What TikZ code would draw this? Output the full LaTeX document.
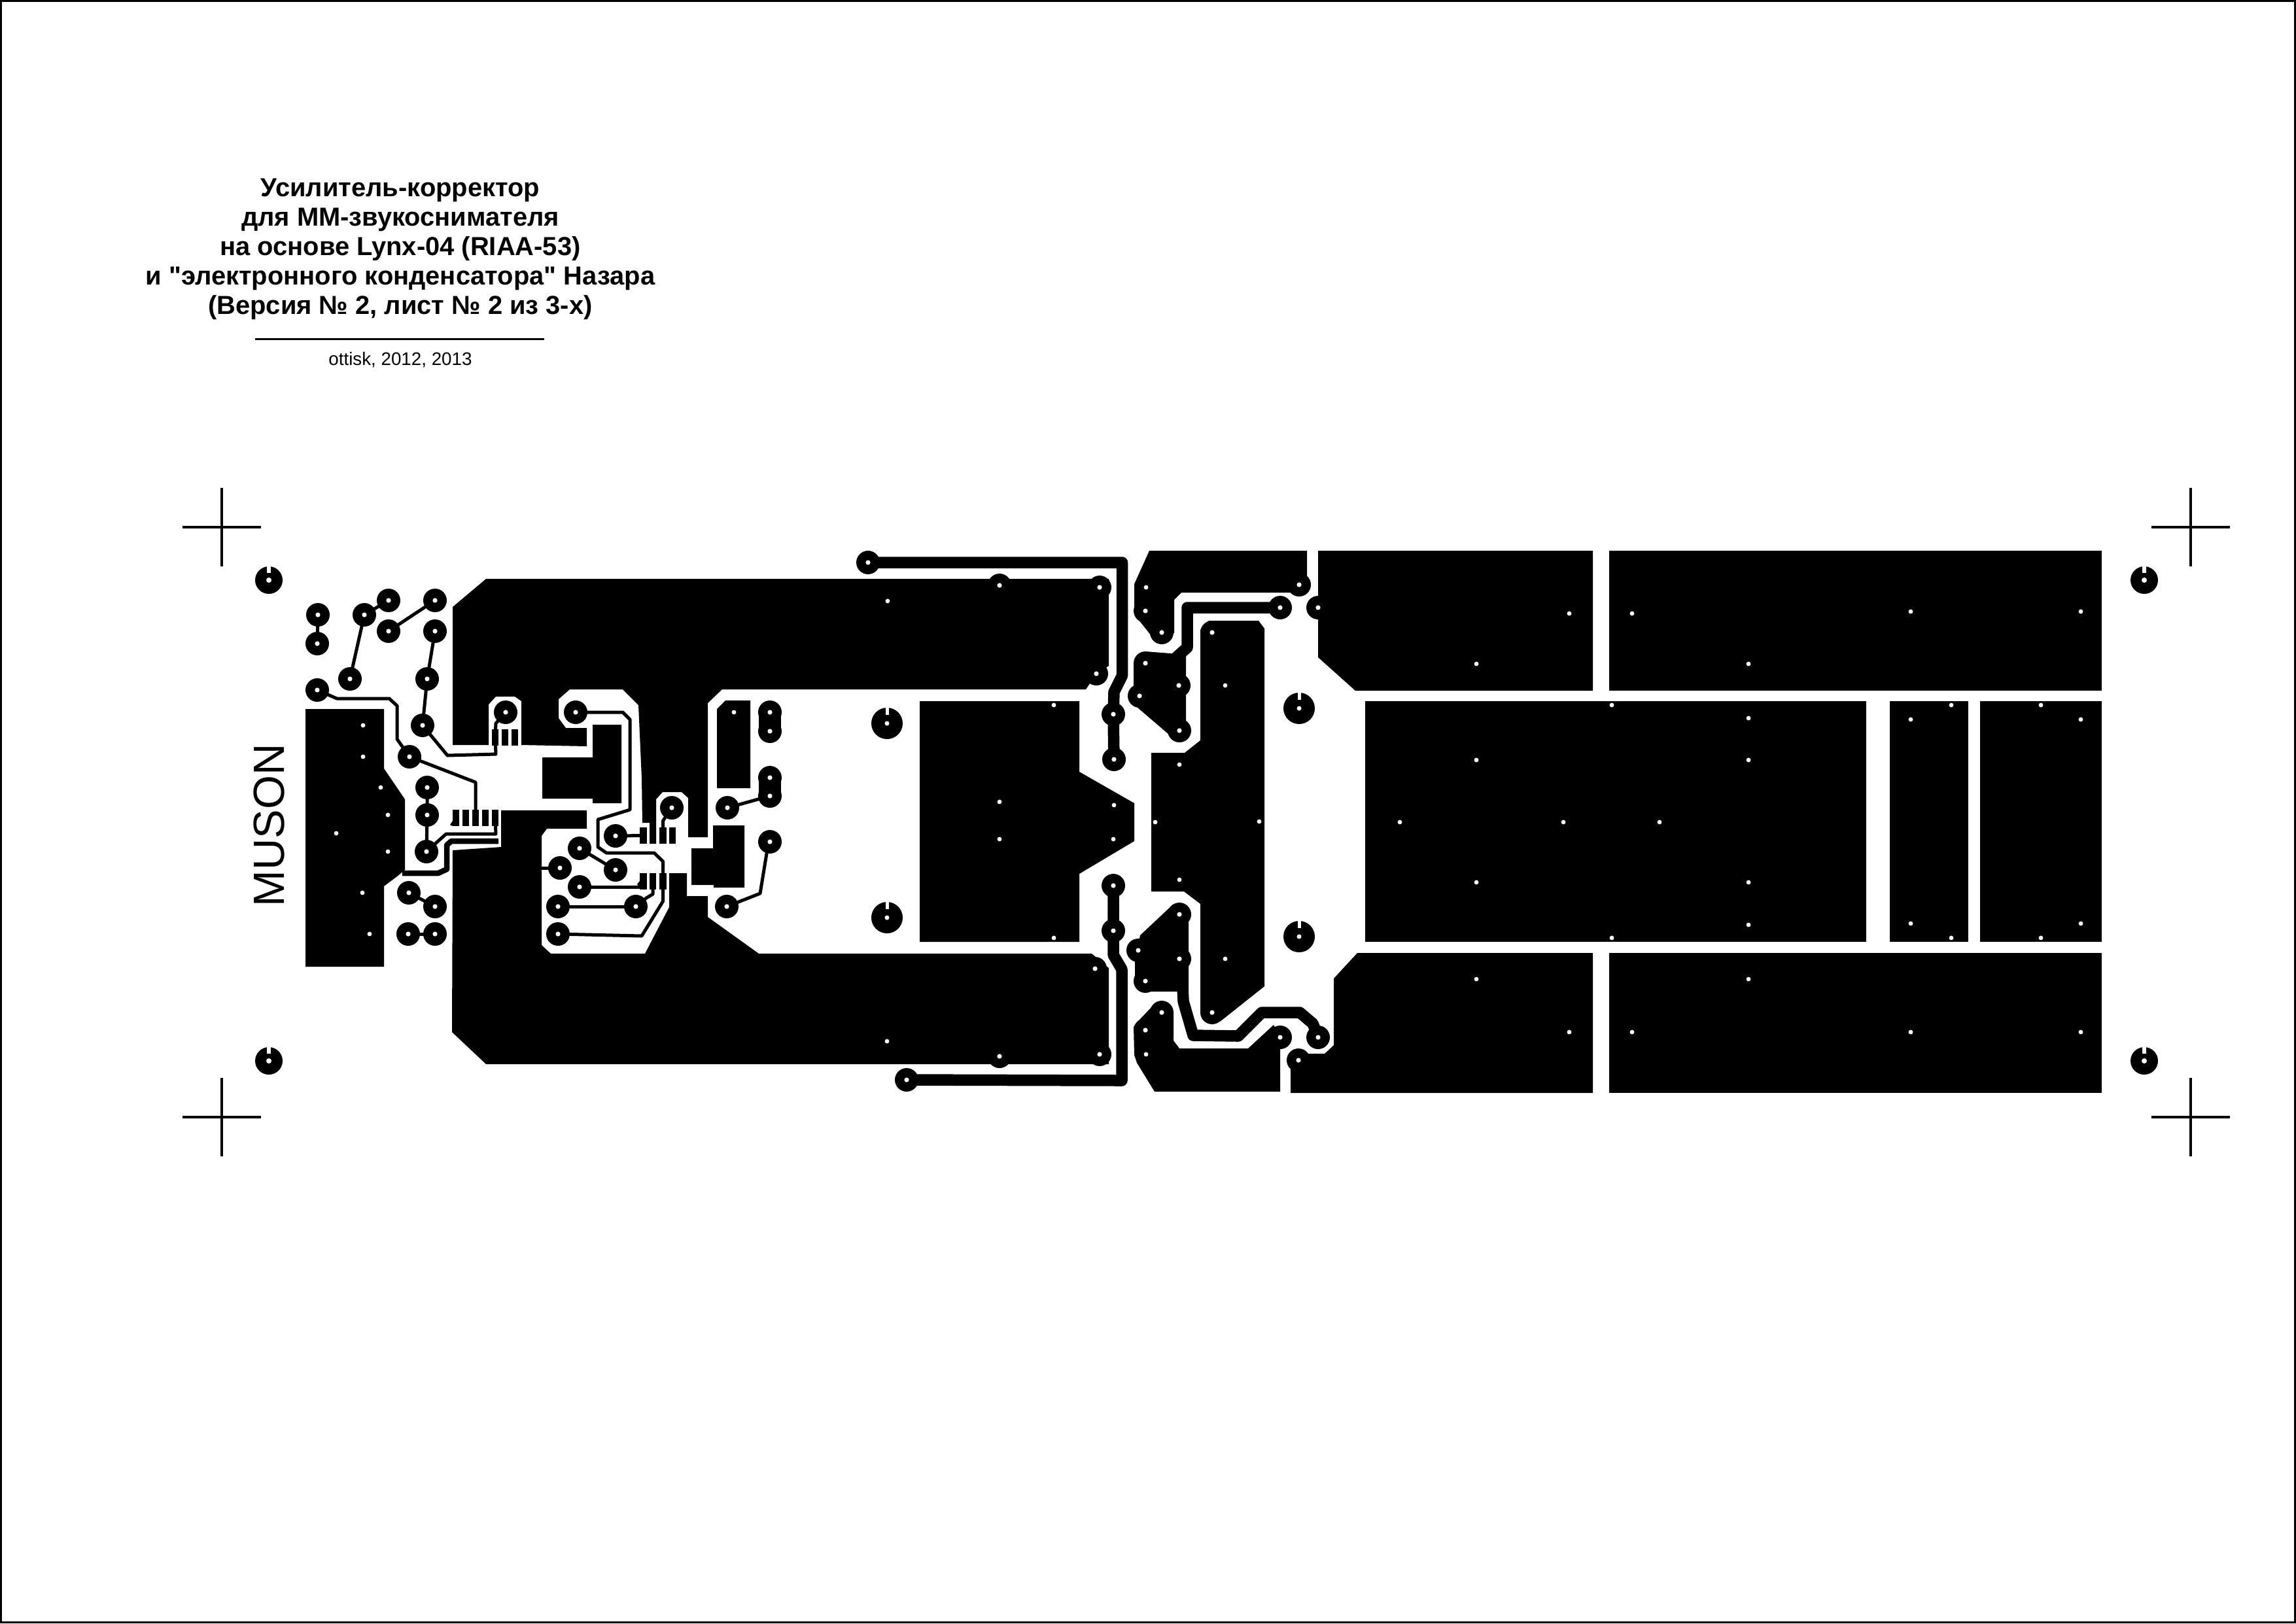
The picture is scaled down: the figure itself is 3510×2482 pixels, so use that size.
\documentclass[tikz,border=0pt]{standalone}
\usepackage{fontspec}
\setmainfont{Liberation Sans}
\newfontfamily\plainsans{Liberation Sans}
\usetikzlibrary{calc}
\tikzstyle{pad} = [circle, fill, inner sep=0pt, minimum size=3.6mm]
\tikzstyle{mount} = [circle, fill, inner sep=0pt, minimum size=4.2mm]
\tikzstyle{bigmount} = [circle, fill, inner sep=0pt, minimum size=4.8mm]
\tikzstyle{lead} = [rectangle, fill, inner sep=0pt, minimum width=1.05mm, minimum height=2.5mm]
\tikzstyle{pour} = [fill=black]
\tikzstyle{thin} = [draw, line width=.5mm, line join=round]
\tikzstyle{track} = [draw, line width=.85mm, line join=round]
\tikzstyle{power} = [draw, line width=1.75mm, line join=round]
\tikzstyle{twin} = [draw, line width=3.4mm]
\tikzstyle{target} = [draw, line width=.45mm]
\tikzstyle{heading} = [align=center, inner sep=0pt, font=\plainsans\bfseries\fontsize{11.35}{12.8}\selectfont]
\def\padlist{a1/486/940,a2/485/984,a3/557/940,a4/594/918,a5/594/965,a6/665/918,a7/665/965,a8/653/1038,
a9/646/1109,a10/535/1038,a11/485/1055,a12/626/1157,a13/773/1089,a14/653/1204,a15/653/1246,a16/652/1302,
a17/625/1365,a18/665/1386,a19/624/1428,a20/665/1428,
b1/880/1089,b2/941/1278,b3/1027/1235,b4/886/1297,b5/941/1330,b6/856/1327,b7/886/1356,b8/853/1386,
b9/972/1386,b10/853/1428,c1/1177/1089,c2/1177/1118,c3/1177/1189,c4/1177/1217,c5/1112/1235,c6/1177/1287,c7/1111/1386,
d1/1528/895,d2/1681/898,d3/1676/1030,d4/1674/1481,d5/1681/1612,d6/1528/1615,
e1/1327/860,e2/1702/1092,e3/1703/1161,e4/1702/1354,e5/1702/1423,e6/1386/1651,
n1/1776/967,n2/1751/934,n3/1986/894,o1/1751/1014,o2/1802/1048,o3/1742/1064,o4/1803/1117,o5/1957/929,t1/2015/929,
m1/1853/967,m2/1853/1548,p1/1803/1398,p2/1740/1453,p3/1803/1466,p4/1751/1500,
q1/1776/1548,q2/1751/1575,q3/1957/1586,q4/2015/1586,r1/1985/1621}
\def\vialist{555/1109,555/1157,582/1204,593/1246,514/1274,593/1302,554/1365,565/1428,1357/919,1356/1592,
1122/1089,1611/1078,1528/1226,1528/1283,1703/1231,1702/1283,1611/1434,1766/1257,1925/1256,
1752/898,1873/1048,1803/1169,1803/1345,1873/1466,1752/1612,
2257/1497,2399/1578,2673/1497,2495/1578,2921/1578,3181/1578,2257/1015,2399/938,2495/938,2921/935,3181/935,2673/1015,
2464/1078,2673/1098,2257/1162,2673/1162,2140/1257,2390/1257,2537/1257,2257/1349,2673/1349,2673/1414,2464/1434,
2983/1078,2921/1100,2921/1412,2983/1434,3120/1078,3181/1100,3181/1412,3120/1434}

\begin{document}
\begin{tikzpicture}[x=.1mm,y=-.1mm]
\useasboundingbox (0,0) rectangle (3510,2482);
\draw[line width=.3mm] (1.5,1.5) rectangle (3508.5,2480.5);

\node [heading] (title) at (612,381) {Усилитель-корректор\\для ММ-звукоснимателя\\на основе Lynx-04 (RIAA-53)\\и "электронного конденсатора" Назара\\(Версия № 2, лист № 2 из 3-х)};
\coordinate (rulea) at (390,518);
\coordinate (ruleb) at (832,518);
\draw[line width=.3mm] (rulea) -- (ruleb);
\node [font=\fontsize{7.9}{9}\selectfont, inner sep=0pt, anchor=base] (sign) at (612,558) {ottisk, 2012, 2013};
\node [rotate=90, inner sep=0pt, font=\fontsize{19}{21}\selectfont] (muson) at (411.5,1262) {MUSON};

\foreach \x/\y in {339/806,3349/806,339/1708,3349/1708}
  \draw[target] (\x-60,\y) -- (\x+60,\y) (\x,\y-60) -- (\x,\y+60);

% pours
\fill[pour] (467,1084) -- (587,1084) -- (587,1175) -- (619,1222) -- (619,1330) -- (607,1340) -- (587,1355) -- (587,1478) -- (467,1478) -- cycle;
\fill[pour] (743,885) -- (1695,885) -- (1695,1018) -- (1676,1030) -- (1660,1054) -- (1104,1054) -- (1082,1075) -- (1082,1280) -- (1052,1280) -- (1052,1220) -- (1042,1211) -- (1013,1211) -- (1003,1222) -- (1003,1290) -- (993,1290) -- (993,1258) -- (982,1258) -- (981,1190) -- (976,1078) -- (952,1054) -- (871,1054) -- (854,1069) -- (854,1098) -- (865,1113) -- (897,1113) -- (897,1141) -- (797,1139) -- (797,1072) -- (787,1065) -- (758,1065) -- (747,1077) -- (747,1139) -- (692,1139) -- (692,928) -- cycle;
\fill[pour] (692,1300) -- (766,1295) -- (766,1239) -- (897,1239) -- (897,1267) -- (836,1267) -- (828,1278) -- (828,1445) -- (842,1458) -- (986,1458) -- (1023,1387) -- (1023,1335) -- (1050,1335) -- (1050,1370) -- (1082,1370) -- (1082,1402) -- (1160,1458) -- (1669,1458) -- (1683,1470) -- (1695,1480) -- (1695,1627) -- (743,1627) -- (691,1578) -- cycle;
\fill[pour] (829,1158) -- (906,1158) -- (906,1108) -- (950,1108) -- (950,1228) -- (906,1228) -- (906,1221) -- (829,1221) -- cycle;
\fill[pour] (1096,1084) -- (1109,1071) -- (1147,1071) -- (1147,1205) -- (1096,1205) -- cycle;
\fill[pour] (1090,1262) -- (1138,1262) -- (1138,1357) -- (1091,1357) -- (1091,1353) -- (1057,1353) -- (1057,1297) -- (1090,1297) -- cycle;
\fill[pour] (1406,1072) -- (1650,1072) -- (1650,1180) -- (1734,1228) -- (1734,1286) -- (1650,1336) -- (1650,1440) -- (1406,1440) -- cycle;
\fill[pour] (1760,1151) -- (1811,1151) -- (1835,1132) -- (1835,963) -- (1848,949) -- (1924,949) -- (1933,961) -- (1933,1508) -- (1865,1562) -- (1835,1548) -- (1835,1382) -- (1810,1363) -- (1760,1363) -- cycle;
\fill[pour] (1757,842) -- (1998,842) -- (1998,894) -- (1973,906) -- (1806,906) -- (1795,917) -- (1795,968) -- (1760,972) -- (1737,943) -- (1734,934) -- (1734,893) -- cycle;
\fill[pour] (1733,1014) -- (1751,996) -- (1790,999) -- (1813,1002) -- (1813,1117) -- (1787,1123) -- (1738,1081) -- (1733,1048) -- cycle;
\fill[pour] (1793,1383) -- (1743,1430) -- (1735,1469) -- (1735,1500) -- (1751,1516) -- (1817,1516) -- (1817,1398) -- cycle;
\fill[pour] (1765,1669) -- (1957,1669) -- (1957,1586) -- (1947,1567) -- (1908,1603) -- (1803,1603) -- (1794,1591) -- (1794,1548) -- (1763,1537) -- (1743,1558) -- (1733,1570) -- (1734,1613) -- (1738,1625) -- cycle;
\fill[pour] (1973,1621) -- (1973,1671) -- (2435,1671) -- (2435,1457) -- (2075,1457) -- (2039,1496) -- (2039,1598) -- (2025,1611) -- (1985,1611) -- cycle;
\fill[pour] (2460,1457) rectangle (3213,1671);
\fill[pour] (2015,842) -- (2015,1005) -- (2072,1056) -- (2435,1056) -- (2435,842) -- cycle;
\fill[pour] (2460,842) rectangle (3213,1056);
\fill[pour] (2087,1072) rectangle (2853,1440);
\fill[pour] (2889,1072) rectangle (3009,1440);
\fill[pour] (3027,1072) rectangle (3213,1440);
\fill[pour] (688,1261) -- (692,1255) -- (692,1263) -- cycle;
\fill[pour] (974,1352) -- (978,1347) -- (978,1357) -- cycle;

\foreach \n/\x/\y in \padlist
  \node [pad] (\n) at (\x,\y) {};
\foreach \n/\x/\y in {h1/411/887,h2/411/1622,h3/3278/887,h4/3278/1622}
  \node [mount] (\n) at (\x,\y) {};
\foreach \n/\x/\y in {k1/1356/1106,k2/1356/1403,k3/1986/1083,k4/1986/1432}
  \node [bigmount] (\n) at (\x,\y) {};
\foreach \n/\x in {ua/757,ub/772,uc/787}
  \node [lead] (\n) at (\x,1127) {};
\foreach \n/\x in {va/697,vb/712,vc/727,vd/742,ve/757}
  \node [lead] (\n) at (\x,1250.5) {};
\foreach \n/\x in {wa/983.5,wb/998,wc/1013.5,wd/1028}
  \node [lead] (\n) at (\x,1277.5) {};
\foreach \n/\x in {we/983.5,wf/998,wg/1013.5}
  \node [lead] (\n) at (\x,1347.5) {};

\draw[thin] (a1.center) -- (a2.center);
\draw[thin] (a3.center) -- (a4.center);
\draw[thin] (a5.center) -- (a6.center);
\draw[thin] (a7.center) -- (a8.center) -- (a9.center);
\draw[thin] (a3.center) -- (a10.center);
\draw[thin] (a11.center) -- (515,1068) -- (595,1068) -- (607,1079) -- (607,1130) -- (a12.center);
\draw[thin] (a12.center) -- (727,1196) -- (vc.center);
\draw[thin] (a9.center) -- (684,1155) -- (758,1153) -- (ua.center);
\draw[thin] (a13.center) -- (758,1106) -- (ua.center);
\draw[thin] (a14.center) -- (a15.center) -- (a16.center);
\draw[thin] (a16.center) -- (682,1275) -- (758,1275) -- (ve.center);
\draw[thin] (a17.center) -- (a18.center);
\draw[thin] (a19.center) -- (a20.center);
\coordinate (aout) at (615,1335);
\coordinate (aend) at (762,1286);
\draw[track] (aout) -- (670,1335) -- (683,1329) -- (683,1292) -- (690,1286) -- (aend);

\draw[thin] (b1.center) -- (952,1089) -- (963,1100) -- (963,1238) -- (914,1253) -- (914,1295) -- (927,1304) -- (1000,1304) -- (1013.5,1317) -- (wg.center) -- (1013.5,1378) -- (981,1431) -- (b10.center);
\draw[thin] (b2.center) -- (wa.center);
\draw[thin] (b3.center) -- (1013.5,1255) -- (wc.center);
\draw[thin] (b4.center) -- (b5.center);
\coordinate (bstub) at (828,1327);
\draw[thin] (b6.center) -- (bstub);
\draw[thin] (b7.center) -- (b7.center -| we.center);
\draw[thin] (b8.center) -- (b9.center);
\draw[thin] (b9.center) -- (988,1373) -- (998,1367) -- (wf.center);
\draw[twin] (c1.center) -- (c2.center);
\draw[twin] (c3.center) -- (c4.center);
\draw[thin] (c4.center) -- (c5.center);
\draw[thin] (c6.center) -- (1172,1305) -- (1162,1366) -- (c7.center);

\draw[power] (e1.center) -- (1715.5,860) -- (1715.5,1033) -- (1703,1058) -- (e2.center) -- (e3.center);
\draw[power] (e4.center) -- (e5.center) -- (1702,1460) -- (1715,1482) -- (1715,1652) -- (e6.center);
\coordinate (oin) at (1795,1008);
\draw[power] (o5.center) -- (1815,929) -- (1815,990) -- (oin);
\coordinate (ptail) at (1808,1510);
\draw[power] (ptail) -- (1809,1531) -- (1824,1583) -- (1893,1584) -- (1929,1548) -- (1987,1548) -- (2007,1565) -- (q4.center);

% holes
\foreach \n/\x/\y in \padlist
  \fill[white] (\n) circle [radius=.36mm];
\foreach \x/\y in \vialist
  \fill[white] (\x,\y) circle [radius=.34mm];
\foreach \n in {h1,h2,h3,h4} {
  \fill[white] (\n) circle [radius=.4mm];
  \fill[white] ($(\n)+(-3,-21)$) rectangle ($(\n)+(3,-11)$);
}
\foreach \n in {k1,k2,k3,k4} {
  \fill[white] (\n) circle [radius=.35mm];
  \fill[white] ($(\n)+(-2.5,-24)$) rectangle ($(\n)+(2.5,-13)$);
}
\end{tikzpicture}
\end{document}
